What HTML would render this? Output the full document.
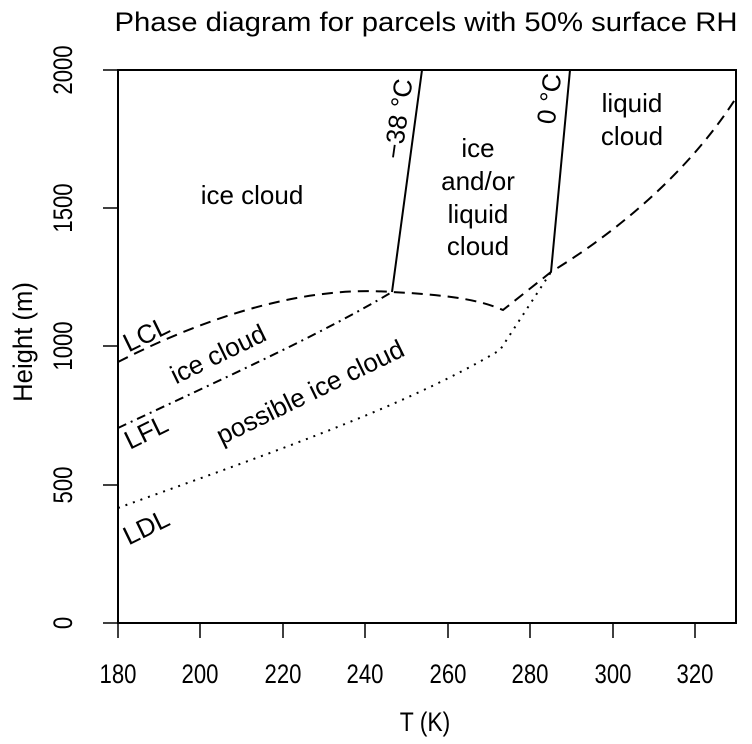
<!DOCTYPE html>
<html><head><style>body{margin:0;background:#fff}svg{display:block;font-family:"Liberation Sans",sans-serif}</style></head><body>
<svg width="752" height="744" viewBox="0 0 752 744">
<text x="426" y="31" font-size="27" text-anchor="middle" textLength="623" lengthAdjust="spacingAndGlyphs">Phase diagram for parcels with 50% surface RH</text>
<rect x="118" y="70" width="618" height="553" fill="none" stroke="#000" stroke-width="2"/>
<g stroke="#000" stroke-width="1.5">
<line x1="118" y1="623" x2="118" y2="638"/><line x1="200" y1="623" x2="200" y2="638"/><line x1="283" y1="623" x2="283" y2="638"/><line x1="365" y1="623" x2="365" y2="638"/><line x1="448" y1="623" x2="448" y2="638"/><line x1="530" y1="623" x2="530" y2="638"/><line x1="613" y1="623" x2="613" y2="638"/><line x1="695" y1="623" x2="695" y2="638"/>
<line x1="103" y1="623" x2="118" y2="623"/><line x1="103" y1="485" x2="118" y2="485"/><line x1="103" y1="346" x2="118" y2="346"/><line x1="103" y1="208" x2="118" y2="208"/><line x1="103" y1="70" x2="118" y2="70"/>
</g>
<g font-size="27" text-anchor="middle">
<text transform="translate(118,683) scale(0.82,1)">180</text><text transform="translate(200,683) scale(0.82,1)">200</text><text transform="translate(283,683) scale(0.82,1)">220</text><text transform="translate(365,683) scale(0.82,1)">240</text><text transform="translate(448,683) scale(0.82,1)">260</text><text transform="translate(530,683) scale(0.82,1)">280</text><text transform="translate(613,683) scale(0.82,1)">300</text><text transform="translate(695,683) scale(0.82,1)">320</text>
<text transform="translate(425,731) scale(0.85,1)">T (K)</text>
<text transform="translate(72,623) rotate(-90) scale(0.82,1)">0</text>
<text transform="translate(72,485) rotate(-90) scale(0.82,1)">500</text>
<text transform="translate(72,346) rotate(-90) scale(0.82,1)">1000</text>
<text transform="translate(72,208) rotate(-90) scale(0.82,1)">1500</text>
<text transform="translate(72,70) rotate(-90) scale(0.82,1)">2000</text>
<text transform="translate(32,342) rotate(-90) scale(0.95,1)">Height (m)</text>
</g>
<g fill="none" stroke="#000" stroke-width="2">
<path d="M118,362 C200,320 300,285 392,292 C450,295 480,300 503,310 L551,272 C620,230 690,170 736,98" stroke-dasharray="11,7"/>
<path d="M118,428 C220,380 320,335 392,292" stroke-dasharray="9,5,2,5"/>
<path d="M118,508 C250,460 400,410 500,350 L551,272" stroke-dasharray="2,6"/>
<path d="M392,292 L422,70 M551,272 L570,70"/>
</g>
<g font-size="26" text-anchor="middle">
<text x="252" y="204">ice cloud</text>
<text x="478" y="157">ice</text><text x="478" y="190">and/or</text><text x="478" y="223">liquid</text><text x="478" y="255">cloud</text>
<text x="632" y="112">liquid</text><text x="632" y="145">cloud</text>
<text transform="translate(150,342) rotate(-26)">LCL</text>
<text transform="translate(222,362) rotate(-26)">ice cloud</text>
<text transform="translate(150,440) rotate(-26)">LFL</text>
<text transform="translate(314,400) rotate(-26)">possible ice cloud</text>
<text transform="translate(150,535) rotate(-26)">LDL</text>
<text transform="translate(407,120) rotate(-82)">−38 °C</text>
<text transform="translate(558,100) rotate(-82)">0 °C</text>
</g>
</svg>
</body></html>
